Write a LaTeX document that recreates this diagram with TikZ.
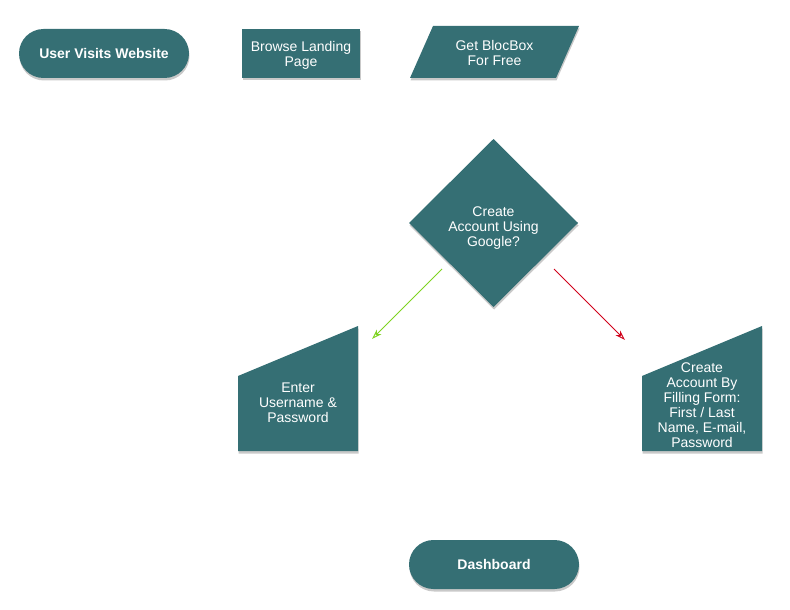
\documentclass[tikz,border=0pt]{standalone}
\usepackage{fontspec}
\setmainfont{Liberation Sans}
\usetikzlibrary{shadows,arrows.meta}
\definecolor{teal1}{HTML}{356F74}
\definecolor{gline}{HTML}{7ED321}
\definecolor{rline}{HTML}{D0021B}
\tikzset{
  shp/.style={fill=teal1, draw=none, drop shadow={shadow xshift=0.5pt, shadow yshift=-2.5pt, opacity=0.3, fill=black!70}},
  txt/.style={text=white, align=center, font=\fontsize{14}{15}\selectfont, inner sep=0pt},
  btxt/.style={text=white, align=center, font=\fontsize{14}{15}\selectfont\bfseries, inner sep=0pt},
  conn/.style={-{Stealth[open,length=10pt,width=6.5pt]}, line width=0.9pt}
}
\begin{document}
\begin{tikzpicture}[x=1pt,y=-1pt]
\useasboundingbox (0,0) rectangle (790,610);
% start terminal
\fill[shp, rounded corners=24.5pt] (19,29) rectangle (189,78);
\node[btxt] (start) at (104,53.5) {User Visits Website};
% browse rect
\fill[shp] (242,29) rectangle (360,78);
\node[txt] (browse) at (301,55) {Browse Landing\\Page};
% parallelogram
\fill[shp] (433,26) -- (579,26) -- (556,78) -- (410,78) -- cycle;
\node[txt] (get) at (494.5,52.5) {Get BlocBox\\For Free};
% diamond
\fill[shp] (493.5,139) -- (578,223) -- (493.5,307) -- (409,223) -- cycle;
\node[txt] (dec) at (493.5,228) {Create\\Account Using\\Google?};
% manual input left
\fill[shp] (238,376) -- (358,326) -- (358,451) -- (238,451) -- cycle;
\node[txt] (enter) at (298,403) {Enter\\Username \&\\Password};
% manual input right
\fill[shp] (642,376) -- (762,326) -- (762,451) -- (642,451) -- cycle;
\node[txt] (form) at (702,405) {Create\\Account By\\Filling Form:\\First / Last\\Name, E-mail,\\Password};
% dashboard
\fill[shp, rounded corners=24.5pt] (409,540) rectangle (579,589);
\node[btxt] (dash) at (494,564.5) {Dashboard};
% connectors
\coordinate (g1) at (442,269);
\coordinate (g2) at (372,339);
\coordinate (r1) at (554,269);
\coordinate (r2) at (625,340);
\draw[conn, gline] (g1) -- (g2);
\draw[conn, rline] (r1) -- (r2);
\end{tikzpicture}
\end{document}
